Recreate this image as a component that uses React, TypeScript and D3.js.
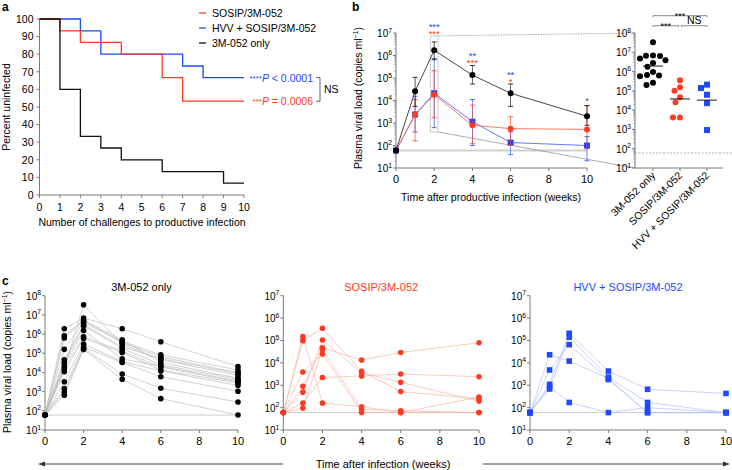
import React from 'react';
import * as d3 from 'd3';

const FONT = '"Liberation Sans", Arial, Helvetica, sans-serif';
const RED = '#ff3a22';
const BLUE = '#1f48ff';
const AX = '#7a7a7a';

// ---------- Panel a: Kaplan-Meier ----------
const challengeTicks = [0, 1, 2, 3, 4, 5, 6, 7, 8, 9, 10];
const pctTicks = [0, 10, 20, 30, 40, 50, 60, 70, 80, 90, 100];
const sosipStepX = [0, 1, 2, 4, 6, 7, 10];
const sosipStepY = [100, 93.3, 86.7, 80, 66.7, 53.3, 53.3];
const hvvStepX = [0, 2, 3, 7, 8, 10];
const hvvStepY = [100, 93.3, 80, 73.3, 66.7, 66.7];
const adjStepX = [0, 1, 2, 3, 4, 6, 9, 10];
const adjStepY = [100, 60, 33.3, 26.7, 20, 13.3, 6.7, 6.7];
const legendLabels = ['SOSIP/3M-052', 'HVV + SOSIP/3M-052', '3M-052 only'];

// ---------- Panel b: geometric means ----------
const weeks = [0, 1, 2, 4, 6, 10];
const weekTicks = [0, 2, 4, 6, 8, 10];
const adjMean = [60, 2.6e4, 1.7e6, 1.35e5, 2.1e4, 2.0e3];
const adjLo = [60, 5.5e3, 6.5e5, 5.4e4, 5.5e3, 8.0e2];
const adjHi = [60, 1.07e5, 4.0e6, 3.6e5, 5.4e4, 5.9e3];
const sosipMean = [60, 2.3e3, 1.8e4, 8.0e2, 5.6e2, 5.2e2];
const sosipLo = [60, 1.6e2, 1.7e3, 1.2e2, 1.0e2, 72];
const sosipHi = [60, 1.1e4, 2.1e5, 6.2e3, 1.9e3, 5.9e3];
const hvvMean = [60, 2.4e3, 2.1e4, 1.15e3, 1.35e2, 1.0e2];
const hvvLo = [60, 4.0e2, 6.2e2, 1.0e2, 39, 21];
const hvvHi = [60, 1.55e4, 7.4e5, 1.1e4, 4.0e2, 2.5e2];
const starWeeks = [2, 4, 6, 10];
const hvvStars = ['***', '**', '**', '*'];
const sosipStars = ['***', '***', '*', ''];
const detectionLimit = 60;

// ---------- Panel b right: peak viral loads ----------
const peakGroups = ['3M-052 only', 'SOSIP/3M-052', 'HVV + SOSIP/3M-052'];
const adjPeak = [3.3e7, 6.8e6, 6.6e6, 6.4e6, 4.7e6, 3.9e6, 2.8e6, 1.8e6, 9.5e5, 6.6e5, 6.2e5, 5.8e5, 2.6e5, 2.0e5];
const sosipPeak = [3.6e5, 1.55e5, 1.0e5, 4.7e4, 2.6e4, 4.1e3, 4.2e3];
const hvvPeak = [2.1e5, 1.4e5, 6.3e4, 2.3e4, 9.3e2];

// ---------- Panel c: individual animals ----------
const adjAnimals = [
  [60, 1.5e4, 3.4e7, 3.0e5, 4.6e4, 7.1e3],
  [60, 1.9e6, 6.8e6, 1.9e6, 4.0e5, 2.0e4],
  [60, 8.1e5, 5.4e6, 5.0e5, 3.3e4, 5.1e3],
  [60, 6.2e5, 4.9e6, 4.0e5, 8.3e4, 1.35e4],
  [60, 1.6e5, 4.1e6, 3.6e5, 6.5e4, 9.8e3],
  [60, 4.6e4, 3.0e6, 2.2e5, 5.2e4, 8.9e3],
  [60, 3.3e4, 2.7e6, 1.8e5, 2.5e4, 4.4e3],
  [60, 2.5e4, 1.55e6, 5.1e4, 2.1e4, 3.6e3],
  [60, 1.9e4, 7.2e5, 1.3e5, 1.9e4, 3.2e3],
  [60, 1.1e4, 5.9e5, 1.1e5, 1.35e4, 2.8e3],
  [60, 3.3e3, 3.0e5, 3.7e4, 1.2e4, 2.1e3],
  [60, 1.45e3, 2.1e5, 3.3e4, 6.0e3, 1.05e3],
  [60, 9.5e2, 1.8e5, 8.3e3, 1.5e3, 2.9e2],
  [60, 6.5e2, 1.55e5, 4.4e3, 4.3e2, 60],
];
const sosipAnimals = [
  [60, 9.8e4, 3.5e5, 4.2e3, 5.2e2, 2.5e2],
  [60, 1.5e5, 1.6e2, 1.1e2, 60, 60],
  [60, 4.9e2, 1.05e5, 3.6e3, 1.35e3, 1.95e2],
  [60, 8.9e2, 4.7e4, 1.35e4, 2.9e4, 7.9e4],
  [60, 95, 3.8e4, 85, 72, 60],
  [60, 1.6e2, 2.2e3, 2.6e3, 3.2e3, 2.4e3],
  [60, 3.9e3, 2.5e4, 60, 60, 3.0e2],
];
const hvvAnimals = [
  [60, 1.1e3, 2.1e5, 4.3e3, 6.6e2, 4.3e2],
  [60, 6.8e2, 1.4e5, 2.3e3, 1.7e2, 60],
  [60, 4.8e3, 6.5e4, 1.8e3, 60, 60],
  [60, 2.3e4, 1.2e4, 2.0e3, 60, 60],
  [60, 8.7e2, 1.7e2, 60, 1.0e2, 60],
];

const Pow = ({ x, y, exp, anchor = 'end', size = 10 }: any) => (
  <text x={x} y={y} textAnchor={anchor} fontSize={size} fontFamily={FONT} fill="#000">
    10<tspan dy={-4.5} fontSize={size * 0.68}>{exp}</tspan>
  </text>
);

const YTitle = ({ x, y }: any) => (
  <text transform={`translate(${x},${y}) rotate(-90)`} textAnchor="middle" fontSize={10.5} fontFamily={FONT}>
    Plasma viral load (copies ml<tspan dy={-4} fontSize={7}>−1</tspan><tspan dy={4}>)</tspan>
  </text>
);

function dodge(values: number[], y: (v: number) => number, r: number) {
  const order = values.map((v, i) => i).sort((a, b) => y(values[a]) - y(values[b]));
  const placed: { x: number; y: number }[] = [];
  const out: number[] = new Array(values.length).fill(0);
  for (const i of order) {
    const py = y(values[i]);
    for (let k = 0; k < 200; k++) {
      const off = (k % 2 === 0 ? 1 : -1) * Math.ceil(k / 2) * 0.5;
      if (placed.every((p) => Math.hypot(p.x - off, p.y - py) >= 2 * r + 0.4)) {
        out[i] = off;
        placed.push({ x: off, y: py });
        break;
      }
    }
  }
  return out;
}

function LogAxis({ x, scale, exps, minor, labelSize = 10 }: any) {
  const [d0, d1] = scale.domain();
  const minors: number[] = [];
  if (minor) {
    for (let e = Math.log10(d0); e < Math.log10(d1); e++) {
      for (let m = 2; m <= 9; m++) minors.push(m * Math.pow(10, e));
    }
  }
  return (
    <g>
      <line x1={x} x2={x} y1={scale(d0)} y2={scale(d1)} stroke={AX} strokeWidth={1} />
      {exps.map((e: number) => (
        <g key={e}>
          <line x1={x - 3} x2={x} y1={scale(Math.pow(10, e))} y2={scale(Math.pow(10, e))} stroke={AX} />
          <Pow x={x - 4} y={scale(Math.pow(10, e)) + 4} exp={e} size={labelSize} />
        </g>
      ))}
      {minors.map((m, i) => (
        <line key={i} x1={x - 1.8} x2={x} y1={scale(m)} y2={scale(m)} stroke={AX} strokeWidth={0.6} />
      ))}
    </g>
  );
}

function WeekAxis({ xs, y }: any) {
  return (
    <g>
      <line x1={xs(0)} x2={xs(10)} y1={y} y2={y} stroke={AX} />
      {weekTicks.map((t) => (
        <g key={t}>
          <line x1={xs(t)} x2={xs(t)} y1={y} y2={y + 3} stroke={AX} />
          <text x={xs(t)} y={y + 15} textAnchor="middle" fontSize={11} fontFamily={FONT}>{t}</text>
        </g>
      ))}
    </g>
  );
}

function Marker({ shape, x, y, size, fill }: any) {
  if (shape === 'square') return <rect x={x - size / 2} y={y - size / 2} width={size} height={size} fill={fill} />;
  return <circle cx={x} cy={y} r={size / 2} fill={fill} />;
}

function PanelA() {
  const x = d3.scaleLinear().domain([0, 10]).range([39.5, 244]);
  const y = d3.scaleLinear().domain([0, 100]).range([195, 19]);
  const path = (xs: number[], ys: number[]) =>
    d3
      .line<number>()
      .x((d) => x(d))
      .y((d, i) => y(ys[i]))
      .curve(d3.curveStepAfter)(xs) as string;
  const curves = [
    { xs: hvvStepX, ys: hvvStepY, c: BLUE },
    { xs: sosipStepX, ys: sosipStepY, c: RED },
    { xs: adjStepX, ys: adjStepY, c: '#111' },
  ];
  const legendColors = [RED, BLUE, '#111'];
  return (
    <g>
      <text x={2} y={11} fontWeight="bold" fontSize={12} fontFamily={FONT}>a</text>
      <line x1={x(0)} x2={x(0)} y1={y(0)} y2={y(100)} stroke={AX} />
      <line x1={x(0)} x2={x(10)} y1={y(0)} y2={y(0)} stroke={AX} />
      {pctTicks.map((t) => (
        <g key={t}>
          <line x1={x(0) - 3} x2={x(0)} y1={y(t)} y2={y(t)} stroke={AX} />
          <text x={x(0) - 6} y={y(t) + 3.8} textAnchor="end" fontSize={10.5} fontFamily={FONT}>{t}</text>
        </g>
      ))}
      {challengeTicks.map((t) => (
        <g key={t}>
          <line x1={x(t)} x2={x(t)} y1={y(0)} y2={y(0) + 3} stroke={AX} />
          <text x={x(t)} y={y(0) + 16} textAnchor="middle" fontSize={10.5} fontFamily={FONT}>{t}</text>
        </g>
      ))}
      <text transform={`translate(10,${y(50)}) rotate(-90)`} textAnchor="middle" fontSize={10.5} fontFamily={FONT}>
        Percent uninfected
      </text>
      <text x={142} y={226} textAnchor="middle" fontSize={10.5} fontFamily={FONT}>
        Number of challenges to productive infection
      </text>
      {curves.map((c, i) => (
        <path key={i} d={path(c.xs, c.ys)} fill="none" stroke={c.c} strokeWidth={1.3} />
      ))}
      {legendLabels.map((l, i) => (
        <g key={l}>
          <line x1={199} x2={206} y1={13 + i * 15} y2={13 + i * 15} stroke={legendColors[i]} strokeWidth={1.3} />
          <text x={212} y={17 + i * 15} fontSize={10.5} fontFamily={FONT}>{l}</text>
        </g>
      ))}
      <text x={313} y={y(66.7) + 4} textAnchor="end" fontSize={10.5} fontFamily={FONT} fill={BLUE}>
        <tspan fontSize={8} dy={-1}>****</tspan>
        <tspan dy={1} fontStyle="italic">P</tspan> &lt; 0.0001
      </text>
      <text x={313} y={y(53.3) + 4} textAnchor="end" fontSize={10.5} fontFamily={FONT} fill={RED}>
        <tspan fontSize={8} dy={-1}>***</tspan>
        <tspan dy={1} fontStyle="italic">P</tspan> = 0.0006
      </text>
      <path d={`M316,${y(66.7)}H320V${y(53.3)}H316`} fill="none" stroke="#555" strokeWidth={0.9} />
      <text x={324} y={(y(66.7) + y(53.3)) / 2 + 4} fontSize={10.5} fontFamily={FONT}>NS</text>
    </g>
  );
}

function PanelB() {
  const x = d3.scaleLinear().domain([0, 10]).range([396, 587]);
  const y = d3.scaleLog().domain([10, 1e7]).range([168, 33]);
  const series = [
    { mean: hvvMean, lo: hvvLo, hi: hvvHi, c: BLUE, shape: 'square', line: '#4d6bff' },
    { mean: sosipMean, lo: sosipLo, hi: sosipHi, c: RED, shape: 'circle', line: '#ff6a55' },
    { mean: adjMean, lo: adjLo, hi: adjHi, c: '#000', shape: 'circle', line: '#333' },
  ];
  const ln = (vals: number[]) =>
    d3
      .line<number>()
      .x((d) => x(d))
      .y((d, i) => y(vals[i]))(weeks) as string;

  const rx = d3.scalePoint().domain(peakGroups).range([653, 707]);
  const ry = d3.scaleLog().domain([10, 1e8]).range([168, 33]);
  const axR = 635;
  const peaks = [adjPeak, sosipPeak, hvvPeak];
  const peakColors = ['#000', RED, BLUE];
  const peakShapes = ['circle', 'circle', 'square'];

  const boxTop = y(7.4e6);
  const boxBot = y(4e2);
  const boxL = x(1.8);
  const boxR = x(2.2);

  const maxHi = (w: number) => {
    const i = weeks.indexOf(w);
    return Math.max(adjHi[i], sosipHi[i], hvvHi[i]);
  };

  return (
    <g>
      <text x={352} y={11} fontWeight="bold" fontSize={12} fontFamily={FONT}>b</text>
      <YTitle x={362} y={98} />
      <line x1={x(0)} x2={x(10)} y1={y(detectionLimit)} y2={y(detectionLimit)} stroke="#cfcfcf" strokeWidth={2} />
      <LogAxis x={x(0)} scale={y} exps={[1, 2, 3, 4, 5, 6, 7]} minor />
      <WeekAxis xs={x} y={168} />
      <text x={491} y={201} textAnchor="middle" fontSize={10.5} fontFamily={FONT}>
        Time after productive infection (weeks)
      </text>
      <rect x={boxL} y={boxTop} width={boxR - boxL} height={boxBot - boxTop} fill="none" stroke="#999" strokeWidth={0.8} strokeDasharray="1.5,1" />
      <line x1={boxR} y1={boxTop} x2={axR} y2={ry(1e8)} stroke="#999" strokeWidth={0.8} strokeDasharray="1.5,1" />
      <line x1={boxR} y1={boxBot} x2={axR} y2={ry(10)} stroke="#888" strokeWidth={0.7} />
      {series.map((s, si) => (
        <g key={si}>
          <path d={ln(s.mean)} fill="none" stroke={s.line} strokeWidth={0.9} />
          {weeks.map((w, i) =>
            w === 0 ? null : (
              <g key={w}>
                <line x1={x(w)} x2={x(w)} y1={y(s.lo[i])} y2={y(s.hi[i])} stroke={s.c} strokeWidth={0.8} opacity={0.8} />
                <line x1={x(w) - 2.5} x2={x(w) + 2.5} y1={y(s.lo[i])} y2={y(s.lo[i])} stroke={s.c} strokeWidth={0.8} />
                <line x1={x(w) - 2.5} x2={x(w) + 2.5} y1={y(s.hi[i])} y2={y(s.hi[i])} stroke={s.c} strokeWidth={0.8} />
              </g>
            )
          )}
          {weeks.map((w, i) => (
            <Marker key={w} shape={s.shape} x={x(w)} y={y(s.mean[i])} size={6} fill={s.c} />
          ))}
        </g>
      ))}
      {starWeeks.map((w, i) => {
        const anchor = Math.min(y(maxHi(w)), w === 2 ? boxTop : 1e9);
        const hasRed = sosipStars[i] !== '';
        const blueBase = anchor - (hasRed ? 12 : 8) + 6;
        return (
          <text key={w} x={x(w)} y={blueBase} textAnchor="middle" fontSize={9.5} fontFamily={FONT}>
            <tspan fill={BLUE}>{hvvStars[i]}</tspan>
            {hasRed && (
              <tspan x={x(w)} dy={7} fill={RED}>
                {sosipStars[i]}
              </tspan>
            )}
          </text>
        );
      })}

      {/* right panel */}
      <line x1={axR} x2={732} y1={ry(detectionLimit)} y2={ry(detectionLimit)} stroke="#888" strokeWidth={0.7} strokeDasharray="2,1.5" />
      <LogAxis x={axR} scale={ry} exps={[1, 2, 3, 4, 5, 6, 7, 8]} minor />
      <line x1={axR} x2={723} y1={168} y2={168} stroke={AX} />
      {peakGroups.map((g, gi) => {
        const vals = peaks[gi];
        const offs = dodge(vals, (v) => ry(v), 3.1);
        const gm = Math.pow(10, d3.mean(vals, (v) => Math.log10(v)) as number);
        return (
          <g key={g}>
            <line x1={rx(g)!} x2={rx(g)!} y1={168} y2={171} stroke={AX} />
            <text transform={`translate(${rx(g)! + 3},${176}) rotate(-45)`} textAnchor="end" fontSize={10.5} fontFamily={FONT}>
              {g}
            </text>
            {vals.map((v, i) => (
              <Marker key={i} shape={peakShapes[gi]} x={rx(g)! + offs[i]} y={ry(v)} size={6} fill={peakColors[gi]} />
            ))}
            <line x1={rx(g)! - 10} x2={rx(g)! + 10} y1={ry(gm)} y2={ry(gm)} stroke="#000" strokeWidth={0.9} />
          </g>
        );
      })}
      {[
        { a: 0, b: 2, yy: 15.7, label: '***' },
        { a: 0, b: 1, yy: 25.7, label: '***' },
        { a: 1, b: 2, yy: 25.7, label: 'NS' },
      ].map((br, i) => {
        const x1 = rx(peakGroups[br.a])! + (br.a === 1 ? 1.5 : 0);
        const x2 = rx(peakGroups[br.b])! - (br.b === 1 ? 1.5 : 0);
        return (
          <g key={i}>
            <path d={`M${x1},${br.yy + 1.5}V${br.yy}H${x2}V${br.yy + 1.5}`} fill="none" stroke="#555" strokeWidth={0.7} />
            <text x={(x1 + x2) / 2} y={br.label === 'NS' ? br.yy - 1.5 : br.yy + 3.5} textAnchor="middle" fontSize={br.label === 'NS' ? 10.5 : 9} fontFamily={FONT}>
              {br.label}
            </text>
          </g>
        );
      })}
    </g>
  );
}

function SubPanel({ x0, x1, top, maxExp, animals, color, lineColor, shape, title, yAxisTitle }: any) {
  const x = d3.scaleLinear().domain([0, 10]).range([x0, x1]);
  const y = d3.scaleLog().domain([10, Math.pow(10, maxExp)]).range([430, top]);
  const exps = d3.range(1, maxExp + 1);
  const ln = (vals: number[]) =>
    d3
      .line<number>()
      .x((d) => x(d))
      .y((d, i) => y(vals[i]))(weeks) as string;
  return (
    <g>
      <line x1={x0} x2={x1} y1={y(detectionLimit)} y2={y(detectionLimit)} stroke="#c8c8c8" strokeWidth={0.9} />
      <LogAxis x={x0} scale={y} exps={exps} />
      <WeekAxis xs={x} y={430} />
      <text x={(x0 + x1) / 2} y={291} textAnchor="middle" fontSize={11} fontFamily={FONT} fill={color}>
        {title}
      </text>
      {yAxisTitle && <YTitle x={11} y={362} />}
      {animals.map((a: number[], i: number) => (
        <path key={i} d={ln(a)} fill="none" stroke={lineColor} strokeWidth={0.7} />
      ))}
      {animals.map((a: number[], i: number) =>
        a.map((v, j) => <Marker key={`${i}-${j}`} shape={shape} x={x(weeks[j])} y={y(v)} size={5.6} fill={color} />)
      )}
    </g>
  );
}

function PanelC() {
  return (
    <g>
      <text x={2} y={285} fontWeight="bold" fontSize={12} fontFamily={FONT}>c</text>
      <SubPanel x0={45} x1={238} top={295.7} maxExp={8} animals={adjAnimals} color="#000" lineColor="#bdbdbd" shape="circle" title="3M-052 only" yAxisTitle />
      <SubPanel x0={283.3} x1={479} top={295.7} maxExp={7} animals={sosipAnimals} color={RED} lineColor="#fbb4a8" shape="circle" title="SOSIP/3M-052" />
      <SubPanel x0={530} x1={726} top={295.7} maxExp={7} animals={hvvAnimals} color={BLUE} lineColor="#b3c0fb" shape="square" title="HVV + SOSIP/3M-052" />
      <line x1={42} x2={283} y1={464} y2={464} stroke="#444" strokeWidth={1} />
      <line x1={483} x2={726} y1={464} y2={464} stroke="#444" strokeWidth={1} />
      <path d="M38,464 L45,461.5 L45,466.5 Z" fill="#333" />
      <path d="M730,464 L723,461.5 L723,466.5 Z" fill="#333" />
      <text x={383} y={468} textAnchor="middle" fontSize={11} fontFamily={FONT}>
        Time after infection (weeks)
      </text>
    </g>
  );
}

export default function App() {
  return (
    <svg width={732} height={470} viewBox="0 0 732 470" style={{ position: 'absolute', left: 0, top: 0, background: '#fff' }}>
      <rect width={732} height={470} fill="#fff" />
      <PanelA />
      <PanelB />
      <PanelC />
    </svg>
  );
}
